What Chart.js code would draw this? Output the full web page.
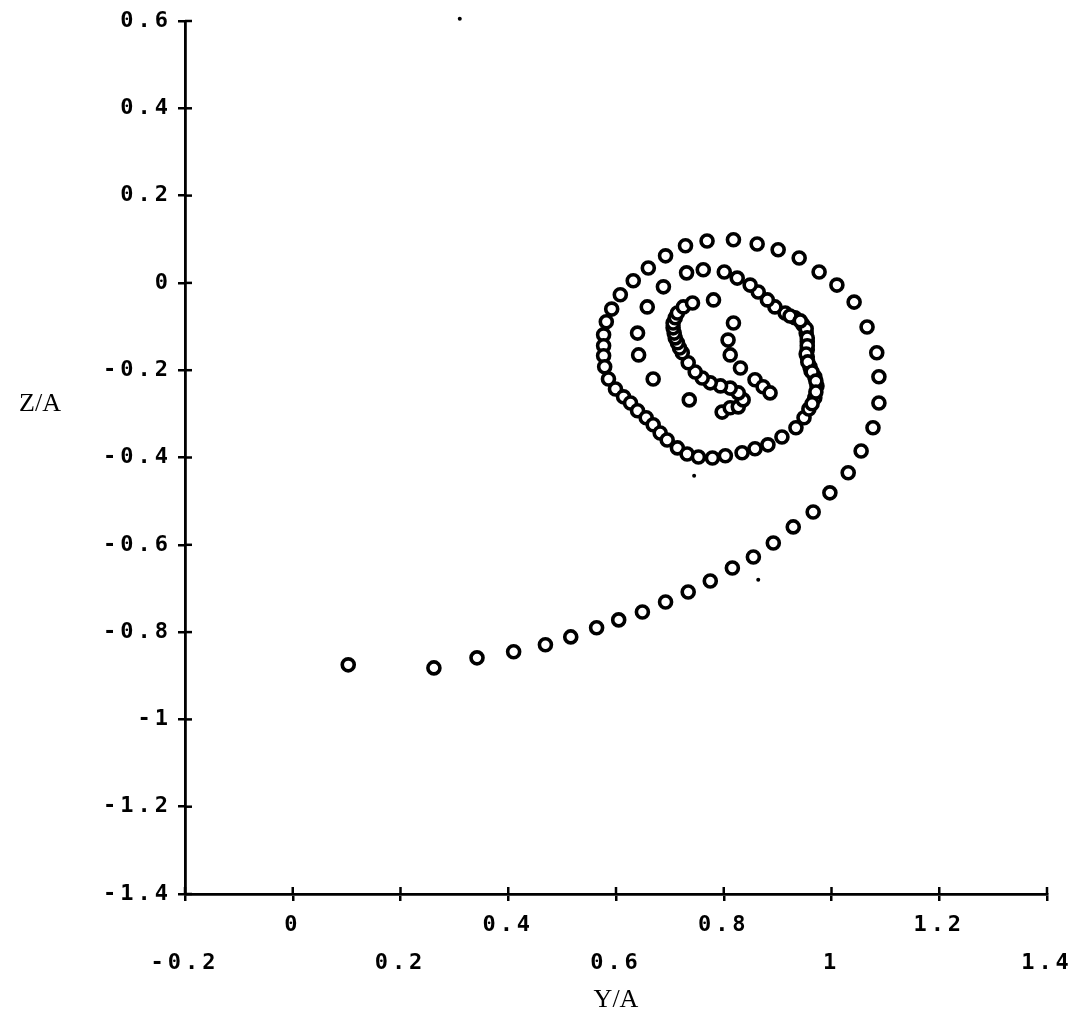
<!DOCTYPE html>
<html>
<head>
<meta charset="utf-8">
<script src="https://cdn.jsdelivr.net/npm/chart.js@4/dist/chart.umd.min.js"></script>
<style>
  html, body { margin: 0; padding: 0; background: #fff; }
  #wrap { width: 1082px; height: 1019px; }
</style>
</head>
<body>
<div id="wrap"><canvas id="c" width="1082" height="1019"></canvas></div>
<script>
// ---- Data ----
const xTitle = 'Y/A';
const yTitle = 'Z/A';
const xTickValues = [-0.2, 0, 0.2, 0.4, 0.6, 0.8, 1, 1.2, 1.4];
const xTickLabels = ['-0.2', '0', '0.2', '0.4', '0.6', '0.8', '1', '1.2', '1.4'];
const yTickValues = [-1.4, -1.2, -1, -0.8, -0.6, -0.4, -0.2, 0, 0.2, 0.4, 0.6];
const yTickLabels = ['-1.4', '-1.2', '-1', '-0.8', '-0.6', '-0.4', '-0.2', '0', '0.2', '0.4', '0.6'];

// trajectory points: Y/A values
const pathY = [
  0.103, 0.262, 0.342, 0.410, 0.469, 0.516, 0.564, 0.605, 0.649, 0.692,
  0.734, 0.775, 0.816, 0.855, 0.892, 0.929, 0.966, 0.997, 1.031, 1.055,
  1.077, 1.088, 1.088, 1.084, 1.066, 1.042, 1.010, 0.977, 0.940, 0.901,
  0.862, 0.818, 0.769, 0.729, 0.692, 0.660, 0.632, 0.608, 0.592, 0.582,
  0.577, 0.577, 0.577, 0.579, 0.586, 0.599, 0.614, 0.627, 0.640, 0.656,
  0.669, 0.682, 0.695, 0.714, 0.732, 0.753, 0.779, 0.803, 0.834, 0.858,
  0.882, 0.908, 0.934, 0.949, 0.958, 0.969, 0.973, 0.969, 0.962, 0.960,
  0.955, 0.955, 0.955, 0.953, 0.947, 0.932, 0.914, 0.895, 0.881, 0.864,
  0.849, 0.825, 0.801, 0.762, 0.731, 0.688, 0.658, 0.640, 0.642, 0.669,
  0.736,
  0.797, 0.812, 0.827, 0.836, 0.827, 0.812, 0.794, 0.775, 0.760, 0.747,
  0.734, 0.723, 0.718, 0.714, 0.710, 0.708, 0.706, 0.706, 0.710, 0.714,
  0.725, 0.742,
  0.781, 0.818, 0.808, 0.812, 0.831, 0.858, 0.873, 0.886,
  0.953, 0.955, 0.955, 0.953, 0.956, 0.964, 0.971, 0.971, 0.964, 0.923, 0.942
];
// trajectory points: Z/A values
const pathZ = [
  -0.875, -0.882, -0.859, -0.845, -0.829, -0.811, -0.790, -0.772, -0.754, -0.731,
  -0.708, -0.683, -0.653, -0.628, -0.596, -0.559, -0.525, -0.481, -0.435, -0.385,
  -0.332, -0.275, -0.215, -0.160, -0.101, -0.044, -0.005, 0.025, 0.057, 0.076,
  0.089, 0.099, 0.096, 0.085, 0.062, 0.034, 0.005, -0.027, -0.060, -0.089,
  -0.119, -0.144, -0.167, -0.192, -0.220, -0.243, -0.261, -0.275, -0.293, -0.309,
  -0.325, -0.344, -0.360, -0.378, -0.392, -0.399, -0.401, -0.396, -0.389, -0.380,
  -0.371, -0.353, -0.332, -0.309, -0.289, -0.263, -0.236, -0.215, -0.202, -0.192,
  -0.170, -0.153, -0.135, -0.115, -0.096, -0.080, -0.069, -0.055, -0.039, -0.021,
  -0.005, 0.011, 0.025, 0.030, 0.023, -0.009, -0.055, -0.115, -0.165, -0.220,
  -0.268,
  -0.296, -0.286, -0.284, -0.268, -0.252, -0.241, -0.236, -0.229, -0.218, -0.204,
  -0.183, -0.160, -0.149, -0.137, -0.126, -0.115, -0.103, -0.092, -0.080, -0.069,
  -0.055, -0.046,
  -0.039, -0.092, -0.131, -0.165, -0.195, -0.222, -0.238, -0.252,
  -0.105, -0.126, -0.144, -0.163, -0.181, -0.204, -0.225, -0.250, -0.277, -0.076, -0.087
];
// stray specks visible in the reference
const dotsY = [0.310, 0.745, 0.864];
const dotsZ = [0.605, -0.442, -0.680];

const pathPoints = pathY.map((v, i) => ({ x: v, y: pathZ[i] }));
const dotPoints = dotsY.map((v, i) => ({ x: v, y: dotsZ[i] }));

const TICK = 7;
const customPlugin = {
  id: 'custom',
  beforeUpdate(chart) { chart.ctx.letterSpacing = '4px'; },
  afterDraw(chart) {
    const { ctx, chartArea, scales } = chart;
    ctx.save();
    ctx.strokeStyle = '#000';
    ctx.lineWidth = 2.5;
    scales.x.ticks.forEach(t => {
      const px = scales.x.getPixelForValue(t.value);
      ctx.beginPath(); ctx.moveTo(px, chartArea.bottom); ctx.lineTo(px, chartArea.bottom - TICK); ctx.stroke();
    });
    scales.y.ticks.forEach(t => {
      const py = scales.y.getPixelForValue(t.value);
      ctx.beginPath(); ctx.moveTo(chartArea.left, py); ctx.lineTo(chartArea.left + TICK, py); ctx.stroke();
    });
    ctx.letterSpacing = '0px';
    ctx.fillStyle = '#000';
    ctx.font = '26px "Liberation Serif"';
    ctx.textAlign = 'center';
    ctx.textBaseline = 'middle';
    ctx.fillText(yTitle, 40, 404);
    ctx.fillText(xTitle, (chartArea.left + chartArea.right) / 2, 1000);
    ctx.restore();
  }
};

new Chart(document.getElementById('c'), {
  type: 'scatter',
  data: {
    datasets: [
      {
        label: 'trajectory',
        data: pathPoints,
        pointStyle: 'circle',
        pointRadius: 6,
        pointBorderWidth: 3.6,
        borderColor: '#000',
        backgroundColor: '#fff',
        pointHoverRadius: 6
      },
      {
        label: 'specks',
        data: dotPoints,
        clip: false,
        pointRadius: 2,
        pointBorderWidth: 0,
        borderColor: '#000',
        backgroundColor: '#000'
      }
    ]
  },
  options: {
    responsive: false,
    animation: false,
    devicePixelRatio: 1,
    layout: { padding: { top: 21, right: 35, left: 0, bottom: 0 } },
    plugins: { legend: { display: false }, tooltip: { enabled: false }, title: { display: false } },
    scales: {
      x: {
        type: 'linear',
        min: -0.2, max: 1.4,
        afterBuildTicks: s => { s.ticks = xTickValues.map(v => ({ value: v })); },
        afterFit: s => { s.height = 125; },
        border: { display: true, color: '#000', width: 2.8 },
        grid: { display: true, drawOnChartArea: false, drawTicks: true, tickLength: TICK, color: '#000', lineWidth: 2.5 },
        ticks: {
          autoSkip: false, maxRotation: 0, minRotation: 0, padding: 5, color: '#000',
          font: { family: '"DejaVu Sans Mono"', size: 22, weight: 'bold', lineHeight: '38px' },
          callback: (value, index) => (index % 2 === 1) ? [xTickLabels[index]] : ['', xTickLabels[index]]
        }
      },
      y: {
        type: 'linear',
        min: -1.4, max: 0.6,
        afterBuildTicks: s => { s.ticks = yTickValues.map(v => ({ value: v })); },
        afterFit: s => { s.width = 185; },
        border: { display: true, color: '#000', width: 2.8 },
        grid: { display: true, drawOnChartArea: false, drawTicks: true, tickLength: TICK, color: '#000', lineWidth: 2.5 },
        ticks: {
          autoSkip: false, padding: 6, color: '#000',
          font: { family: '"DejaVu Sans Mono"', size: 22, weight: 'bold' },
          callback: (value, index) => yTickLabels[index]
        }
      }
    }
  },
  plugins: [customPlugin]
});
</script>
</body>
</html>
